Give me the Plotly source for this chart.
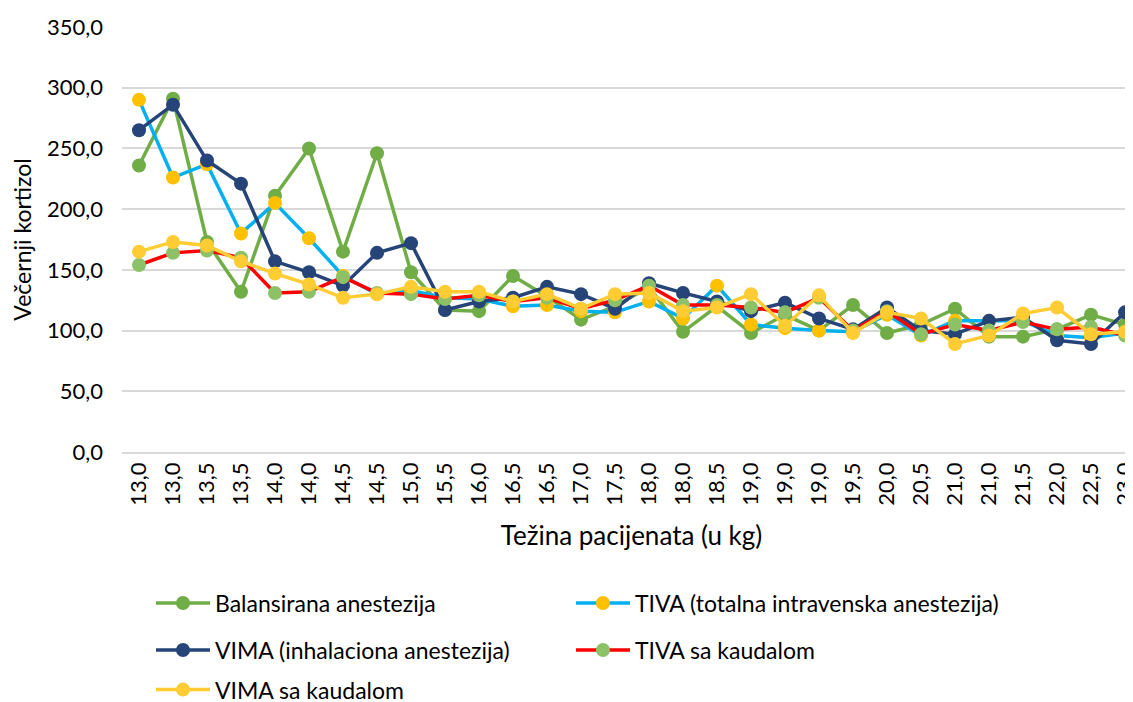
import plotly.graph_objects as go

tezina = ["13,0", "13,0", "13,5", "13,5", "14,0", "14,0", "14,5", "14,5", "15,0", "15,5",
          "16,0", "16,5", "16,5", "17,0", "17,5", "18,0", "18,0", "18,5", "19,0", "19,0",
          "19,0", "19,5", "20,0", "20,5", "21,0", "21,0", "21,5", "22,0", "22,5", "23,0"]

balansirana = [236, 291, 173, 132, 211, 250, 165, 246, 148, 117,
               116, 145, 128, 109, 120, 136, 99, 120, 98, 113,
               100, 121, 98, 105, 118, 95, 95, 101, 113, 105]
tiva = [290, 226, 237, 180, 205, 176, 145, 130, 133, 127,
        126, 120, 121, 116, 115, 124, 110, 137, 105, 102,
        100, 99, 113, 96, 108, 108, 108, 96, 94, 98]
vima = [265, 286, 240, 221, 157, 148, 137, 164, 172, 117,
        124, 127, 136, 130, 118, 139, 131, 124, 116, 123,
        110, 101, 119, 100, 97, 108, 111, 92, 89, 115]
tiva_kaudal = [154, 164, 166, 160, 131, 132, 144, 131, 130, 126,
               129, 124, 127, 118, 125, 137, 121, 121, 119, 115,
               127, 100, 116, 97, 105, 100, 107, 101, 103, 96]
vima_kaudal = [165, 173, 170, 157, 147, 138, 127, 130, 136, 132,
               132, 124, 130, 118, 130, 131, 116, 119, 130, 104,
               129, 98, 115, 110, 89, 96, 114, 119, 97, 99]

x = list(range(len(tezina)))

series = [
    ("Balansirana anestezija", balansirana, "#70AD47", "#70AD47", "legend"),
    ("TIVA (totalna intravenska anestezija)", tiva, "#00B0F0", "#FFC000", "legend2"),
    ("VIMA (inhalaciona anestezija)", vima, "#264478", "#264478", "legend3"),
    ("TIVA sa kaudalom", tiva_kaudal, "#FF0000", "#8CC168", "legend4"),
    ("VIMA sa kaudalom", vima_kaudal, "#FFCC33", "#FFCC33", "legend5"),
]

fig = go.Figure()
for name, vals, lc, mc, lg in series:
    fig.add_trace(go.Scatter(
        x=x, y=vals, name=name, mode="lines+markers",
        line=dict(color=lc, width=3.5),
        marker=dict(color=mc, size=14),
        legend=lg, showlegend=True,
    ))

font = "Lato"
legend_common = dict(orientation="h", xanchor="left", yanchor="middle",
                     xref="container", yref="container",
                     bgcolor="rgba(0,0,0,0)", borderwidth=0,
                     font=dict(family=font, size=23, color="#000000"),
                     itemwidth=54)

col1, col2 = 0.1262, 0.4969
row1, row2, row3 = 0.1524, 0.0855, 0.029

fig.update_layout(
    width=1133, height=702,
    showlegend=True,
    margin=dict(l=114, r=0, t=19, b=258),
    plot_bgcolor="white", paper_bgcolor="white",
    separators=",.",
    font=dict(family=font, size=22, color="#000000"),
    legend=dict(x=col1, y=row1, **legend_common),
    legend2=dict(x=col2, y=row1, **legend_common),
    legend3=dict(x=col1, y=row2, **legend_common),
    legend4=dict(x=col2, y=row2, **legend_common),
    legend5=dict(x=col1, y=row3, **legend_common),
    xaxis=dict(
        tickmode="array", tickvals=x, ticktext=tezina,
        range=[-0.5, 29.47], tickangle=-90,
        showgrid=False, showline=True, linecolor="#D9D9D9", linewidth=1.5,
        ticks="", tickfont=dict(family=font, size=22),
        title=dict(text="Težina pacijenata (u kg)", font=dict(family=font, size=26), standoff=22),
        automargin=False, zeroline=False,
    ),
    yaxis=dict(
        range=[0, 350], dtick=50, tickformat=".1f",
        showgrid=True, gridcolor="#D9D9D9", gridwidth=1.5,
        zeroline=False, showline=False, ticks="",
        ticklabelstandoff=18,
        tickfont=dict(family=font, size=22),
        title=dict(text="Večernji kortizol", font=dict(family=font, size=23), standoff=8),
        automargin=False,
    ),
)

fig.write_html("out.html")
